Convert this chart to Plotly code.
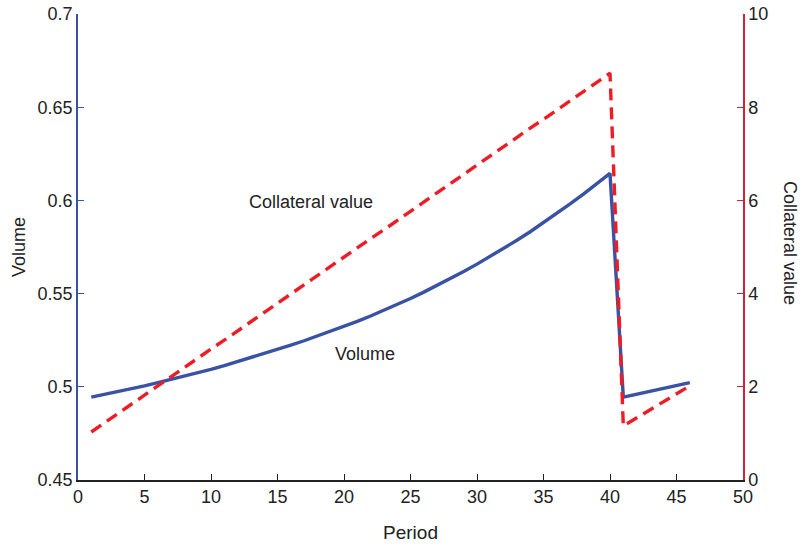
import plotly.graph_objects as go

period = list(range(1, 47))
volume = [0.4945, 0.4959, 0.4974, 0.4989, 0.5005, 0.5022, 0.5039, 0.5057, 0.5075, 0.5094,
          0.5114, 0.5135, 0.5156, 0.5178, 0.5200, 0.5223, 0.5247, 0.5272, 0.5297, 0.5324,
          0.5351, 0.5380, 0.5410, 0.5441, 0.5474, 0.5508, 0.5544, 0.5580, 0.5618, 0.5658,
          0.5699, 0.5742, 0.5786, 0.5832, 0.5880, 0.5930, 0.5981, 0.6034, 0.6089, 0.6145,
          0.4945, 0.4960, 0.4975, 0.4990, 0.5006, 0.5022]
collateral = [1.03, 1.23, 1.42, 1.62, 1.82, 2.02, 2.21, 2.41, 2.61, 2.81,
              3.00, 3.20, 3.40, 3.60, 3.79, 3.99, 4.19, 4.39, 4.58, 4.78,
              4.98, 5.18, 5.37, 5.57, 5.77, 5.97, 6.16, 6.36, 6.56, 6.76,
              6.95, 7.15, 7.35, 7.55, 7.74, 7.94, 8.14, 8.34, 8.53, 8.73,
              1.16, 1.33, 1.50, 1.68, 1.85, 2.02]

BLUE = "#3a52a4"
RED = "#ee1c25"
CRIMSON = "#d0203e"
TXT = "#222222"
FONT = "Liberation Sans, Arial, sans-serif"

W, H = 800, 545
ML, MR, MT, MB = 78, 57, 14, 65
pw = W - ML - MR
ph = H - MT - MB

fig = go.Figure()
fig.add_trace(go.Scatter(x=period, y=volume, mode="lines", name="Volume",
                         line=dict(color=BLUE, width=3.4), yaxis="y"))
fig.add_trace(go.Scatter(x=period, y=collateral, mode="lines", name="Collateral value",
                         line=dict(color=RED, width=3.4, dash="12px,7px"), yaxis="y2"))

fig.update_layout(
    width=W, height=H,
    margin=dict(l=ML, r=MR, t=MT, b=MB, autoexpand=False),
    plot_bgcolor="white", paper_bgcolor="white",
    showlegend=False,
    font=dict(family=FONT, size=18, color=TXT),
    xaxis=dict(range=[0, 50], tickvals=[0, 5, 10, 15, 20, 25, 30, 35, 40, 45, 50],
               ticks="inside", ticklen=6, tickcolor="#222", showline=True, linecolor="#222",
               linewidth=1.5, showgrid=False, zeroline=False,
               title=dict(text="Period", font=dict(size=19, color=TXT), standoff=19)),
    yaxis=dict(range=[0.45, 0.7], tickvals=[0.45, 0.5, 0.55, 0.6, 0.65, 0.7],
               ticktext=["0.45", "0.5", "0.55", "0.6", "0.65", "0.7"],
               ticks="inside", ticklen=6, tickcolor=BLUE, showline=True, linecolor=BLUE,
               linewidth=1.5, showgrid=False, zeroline=False,
               title=dict(text="Volume", font=dict(size=18, color=TXT), standoff=7)),
    yaxis2=dict(range=[0, 10], tickvals=[0, 2, 4, 6, 8, 10], overlaying="y", side="right",
                ticks="inside", ticklen=6, tickcolor=CRIMSON, showline=True, linecolor=CRIMSON,
                linewidth=1.5, showgrid=False, zeroline=False),
    annotations=[
        dict(x=17.5, y=0.5993, xref="x", yref="y", text="Collateral value", showarrow=False,
             font=dict(size=18, color=TXT)),
        dict(x=21.6, y=0.5175, xref="x", yref="y", text="Volume", showarrow=False,
             font=dict(size=18, color=TXT)),
        dict(x=(790 - ML) / pw, y=(H - MB - 243) / ph, xref="paper", yref="paper",
             xanchor="center", yanchor="middle",
             text="Collateral value", showarrow=False,
             textangle=90, font=dict(size=18, color=TXT)),
    ],
)

fig.write_html("out.html", config={"displayModeBar": False},
               post_script="document.body.style.margin='0';")
